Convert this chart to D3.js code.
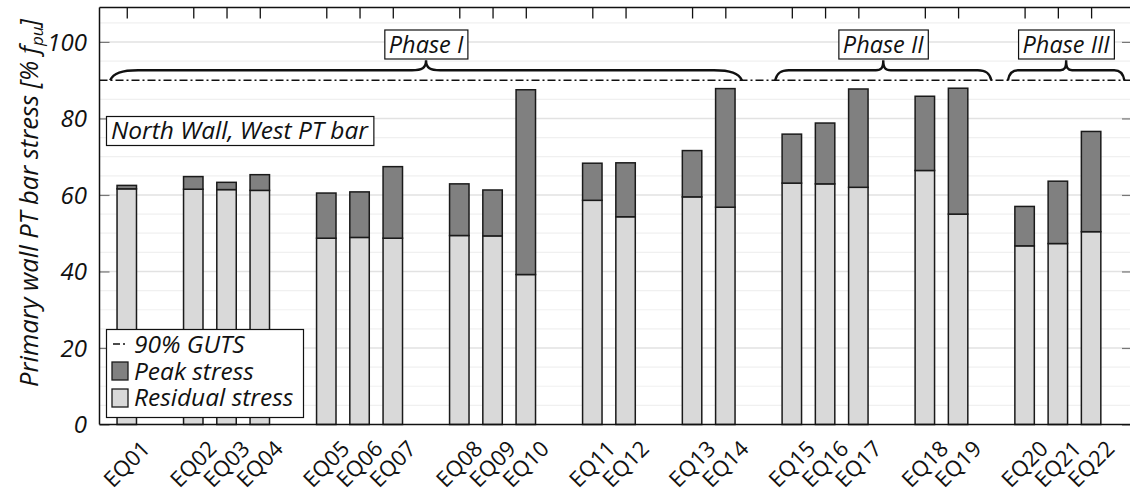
<!DOCTYPE html>
<html>
<head>
<meta charset="utf-8">
<script src="https://cdn.jsdelivr.net/npm/d3@7"></script>
<style>
  html, body { margin: 0; padding: 0; background: #fff; overflow: hidden; }
  svg { display: block; }
  text { font-family: "Open Sans", sans-serif; }
</style>
</head>
<body>
<svg id="chart" width="1130" height="498"></svg>
<script>
// ---------------- data ----------------
const events = ["EQ01","EQ02","EQ03","EQ04","EQ05","EQ06","EQ07","EQ08","EQ09","EQ10","EQ11",
                "EQ12","EQ13","EQ14","EQ15","EQ16","EQ17","EQ18","EQ19","EQ20","EQ21","EQ22"];
const groupSizes = [1, 3, 3, 3, 2, 2, 3, 2, 3];
const residualStress = [61.6, 61.5, 61.4, 61.2, 48.7, 48.9, 48.7, 49.4, 49.3, 39.2, 58.6,
                        54.3, 59.5, 56.8, 63.1, 62.9, 62.0, 66.4, 55.0, 46.7, 47.3, 50.4];
const peakStress = [62.5, 64.8, 63.3, 65.3, 60.5, 60.8, 67.4, 62.9, 61.3, 87.5, 68.3,
                    68.4, 71.6, 87.8, 75.9, 78.8, 87.7, 85.8, 87.9, 57.0, 63.6, 76.6];
const yTicks = [0, 20, 40, 60, 80, 100];
const gutsLevel = 90;
const phases = [
  { label: "Phase I",   first: "EQ01", last: "EQ14" },
  { label: "Phase II",  first: "EQ15", last: "EQ19" },
  { label: "Phase III", first: "EQ20", last: "EQ22" }
];
const annotation = "North Wall, West PT bar";
const legendLabels = ["90% GUTS", "Peak stress", "Residual stress"];

// ---------------- layout ----------------
const svg = d3.select("#chart");
const L = 99.5, R = 1132, T = 7.5, B = 424.5;

// slot index per event (one empty slot between groups)
const slotOf = {};
{
  let s = 0, i = 0;
  groupSizes.forEach(n => {
    for (let k = 0; k < n; k++) { slotOf[events[i++]] = s++; }
    s++;
  });
}
const x = d3.scaleLinear().domain([-0.82, 30.23]).range([L, R]);
const y = d3.scaleLinear().domain([0, 109]).range([B, T]);
const step = x(1) - x(0);
const barW = step * 0.585;

const FS = 24.5;

// grid lines
const minor = d3.range(5, 109, 5).filter(v => v % 20 !== 0 && v !== gutsLevel);
svg.append("g").selectAll("line").data(minor).join("line")
  .attr("x1", L).attr("x2", R).attr("y1", d => y(d)).attr("y2", d => y(d))
  .attr("stroke", "#f0f0f0").attr("stroke-width", 1.2);
svg.append("g").selectAll("line").data(yTicks.filter(v => v > 0)).join("line")
  .attr("x1", L).attr("x2", R).attr("y1", d => y(d)).attr("y2", d => y(d))
  .attr("stroke", "#e2e2e2").attr("stroke-width", 1.5);

// inward ticks left / right
const yAxisL = d3.axisRight(y).tickValues(yTicks).tickSize(10).tickFormat("");
const gl = svg.append("g").attr("transform", `translate(${L},0)`).call(yAxisL);
gl.select(".domain").remove();
gl.selectAll(".tick line").attr("stroke", "#777").attr("stroke-width", 1.2);
const yAxisR = d3.axisLeft(y).tickValues(yTicks).tickSize(10).tickFormat("");
const gr = svg.append("g").attr("transform", `translate(${R},0)`).call(yAxisR);
gr.select(".domain").remove();
gr.selectAll(".tick line").attr("stroke", "#777").attr("stroke-width", 1.2);

// y tick labels
svg.append("g").selectAll("text").data(yTicks).join("text")
  .attr("x", 87).attr("y", d => y(d)).attr("dy", "0.36em")
  .attr("text-anchor", "end").attr("font-style", "italic")
  .attr("font-size", 24).attr("fill", "#111").text(d => d);

// top ticks (inward)
const xAxisT = d3.axisBottom(x).tickValues(events.map(e => slotOf[e])).tickSize(11).tickFormat("");
const gt = svg.append("g").attr("transform", `translate(0,${T})`).call(xAxisT);
gt.select(".domain").remove();
gt.selectAll(".tick line").attr("stroke", "#111").attr("stroke-width", 1.3);

// bars
const bars = svg.append("g");
bars.selectAll("rect.res").data(events).join("rect").attr("class", "res")
  .attr("x", e => x(slotOf[e]) - barW / 2).attr("width", barW)
  .attr("y", (e, i) => y(residualStress[i])).attr("height", (e, i) => y(0) - y(residualStress[i]))
  .attr("fill", "#d9d9d9").attr("stroke", "#1a1a1a").attr("stroke-width", 1.5);
bars.selectAll("rect.peak").data(events).join("rect").attr("class", "peak")
  .attr("x", e => x(slotOf[e]) - barW / 2).attr("width", barW)
  .attr("y", (e, i) => y(peakStress[i])).attr("height", (e, i) => y(residualStress[i]) - y(peakStress[i]))
  .attr("fill", "#808080").attr("stroke", "#1a1a1a").attr("stroke-width", 1.5);

// 90% GUTS line
svg.append("line").attr("x1", L).attr("x2", R).attr("y1", y(gutsLevel)).attr("y2", y(gutsLevel))
  .attr("stroke", "#111").attr("stroke-width", 1.4).attr("stroke-dasharray", "8,3,2,3");

// braces + phase labels
const yEnd = y(gutsLevel), yFlat = yEnd - 10, yTip = yEnd - 20;
const endPad = [0.5, 1.0, 1.0];
phases.forEach((p, i) => {
  const x0 = x(slotOf[p.first] - 0.5);
  const x1 = x(slotOf[p.last] + endPad[i]);
  const xm = (x0 + x1) / 2;
  const len = x1 - x0;
  const hook = 6 + 0.035 * len;
  const tw = 4 + 0.016 * len;
  const path = `M${x0},${yEnd} C${x0 + hook * 0.12},${yFlat + 3} ${x0 + hook * 0.4},${yFlat} ${x0 + hook},${yFlat}
    L${xm - tw},${yFlat} C${xm - tw * 0.3},${yFlat} ${xm},${yFlat - 2} ${xm},${yTip}
    C${xm},${yFlat - 2} ${xm + tw * 0.3},${yFlat} ${xm + tw},${yFlat}
    L${x1 - hook},${yFlat} C${x1 - hook * 0.4},${yFlat} ${x1 - hook * 0.12},${yFlat + 3} ${x1},${yEnd}`;
  svg.append("path").attr("d", path).attr("fill", "none")
    .attr("stroke", "#111").attr("stroke-width", 2.4);
  const g = svg.append("g");
  const t = g.append("text").attr("x", xm).attr("y", 52.5)
    .attr("text-anchor", "middle").attr("font-style", "italic")
    .attr("font-size", 23.5).attr("fill", "#111").text(p.label);
  const bb = t.node().getBBox();
  g.insert("rect", "text").attr("x", bb.x - 4).attr("y", 30).attr("width", bb.width + 8).attr("height", 29)
    .attr("fill", "#fff").attr("stroke", "#111").attr("stroke-width", 1.2);
});

// annotation box
{
  const g = svg.append("g");
  const t = g.append("text").attr("x", 111).attr("y", 139)
    .attr("font-style", "italic").attr("font-size", FS).attr("fill", "#111").text(annotation);
  const bb = t.node().getBBox();
  g.insert("rect", "text").attr("x", 106.5).attr("y", 116.5).attr("width", bb.width + 9).attr("height", 29)
    .attr("fill", "#fff").attr("stroke", "#111").attr("stroke-width", 1.2);
}

// axes spines
svg.append("line").attr("x1", L).attr("x2", L).attr("y1", T).attr("y2", B).attr("stroke", "#111").attr("stroke-width", 1.5);
svg.append("line").attr("x1", L).attr("x2", R).attr("y1", T).attr("y2", T).attr("stroke", "#111").attr("stroke-width", 1.5);
svg.append("line").attr("x1", L).attr("x2", R).attr("y1", B).attr("y2", B).attr("stroke", "#111").attr("stroke-width", 1.5);

// x labels, rotated -45
svg.append("g").selectAll("text").data(events).join("text")
  .attr("transform", e => `translate(${x(slotOf[e])},464) rotate(-45)`)
  .attr("text-anchor", "middle").attr("dy", "0.35em")
  .attr("font-size", 22).attr("fill", "#111").text(e => e);

// y axis title
{
  const t = svg.append("text")
    .attr("transform", `translate(38,203) rotate(-90)`)
    .attr("text-anchor", "middle").attr("font-style", "italic")
    .attr("font-size", 25.5).attr("fill", "#111");
  t.append("tspan").text("Primary wall PT bar stress [% f");
  t.append("tspan").attr("font-size", 17).attr("dy", 5).text("pu");
  t.append("tspan").attr("dy", -5).text("]");
}

// legend
{
  const g = svg.append("g");
  g.append("rect").attr("x", 106.5).attr("y", 329.5).attr("width", 197).attr("height", 88)
    .attr("fill", "#fff").attr("stroke", "#111").attr("stroke-width", 1.2);
  g.append("line").attr("x1", 113).attr("x2", 128).attr("y1", 344).attr("y2", 344)
    .attr("stroke", "#111").attr("stroke-width", 1.3).attr("stroke-dasharray", "7,3,2,10");
  g.append("rect").attr("x", 112).attr("y", 362).attr("width", 16).attr("height", 18)
    .attr("fill", "#808080").attr("stroke", "#1a1a1a").attr("stroke-width", 1.3);
  g.append("rect").attr("x", 112).attr("y", 389).attr("width", 16).attr("height", 18)
    .attr("fill", "#d9d9d9").attr("stroke", "#1a1a1a").attr("stroke-width", 1.3);
  const ys = [353, 380, 406];
  legendLabels.forEach((lab, i) => {
    g.append("text").attr("x", 134).attr("y", ys[i]).attr("font-style", "italic")
      .attr("font-size", 24.5).attr("fill", "#111").text(lab);
  });
}
</script>
</body>
</html>
